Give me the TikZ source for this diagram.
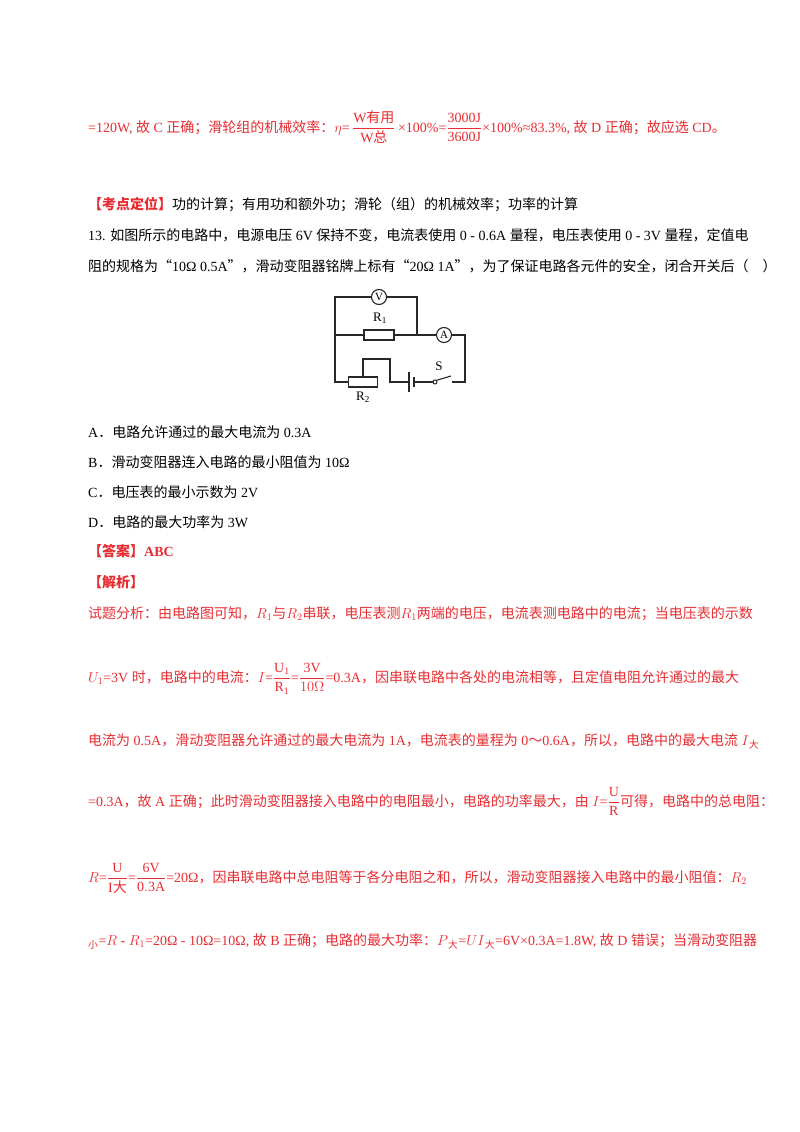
\documentclass[tikz,border=0pt]{standalone}
\usepackage{fontspec}
\usepackage{amsmath}
\setmainfont{Liberation Serif}
\newfontfamily\cjk{Noto Sans CJK SC}
\newfontfamily\latn{Liberation Serif}
\XeTeXinterchartokenstate=1
\newXeTeXintercharclass\CJKcls
\count255="4E00
\loop \XeTeXcharclass\count255=\CJKcls \ifnum\count255<"9FFF \advance\count255 1 \repeat
\count255="3000
\loop \XeTeXcharclass\count255=\CJKcls \ifnum\count255<"303F \advance\count255 1 \repeat
\count255="FF00
\loop \XeTeXcharclass\count255=\CJKcls \ifnum\count255<"FFEF \advance\count255 1 \repeat
\XeTeXcharclass"201C=\CJKcls
\XeTeXcharclass"201D=\CJKcls
\XeTeXinterchartoks 0 \CJKcls = {\cjk}
\XeTeXinterchartoks 4095 \CJKcls = {\cjk}
\XeTeXinterchartoks \CJKcls 0 = {\latn}
\XeTeXinterchartoks \CJKcls 4095 = {\latn}
\definecolor{ans}{RGB}{232,45,50}
\definecolor{ink}{RGB}{40,40,40}
\tikzset{ln/.style={anchor=base west,inner sep=0pt,font=\fontsize{14}{16}\selectfont},
  wire/.style={draw=ink,line width=1.1pt},
  meter/.style={circle,draw=ink,line width=1.1pt,fill=white,minimum size=15pt,inner sep=0pt,font=\fontsize{11}{11}\selectfont}}
\begin{document}
\begin{tikzpicture}[x=1pt,y=-1pt]
\useasboundingbox[fill=white] (0,0) rectangle (800,1132);
\node[ln,text=ans] (l1) at (88,132) {=120W, 故 C 正确；滑轮组的机械效率：$\eta$\latn=\,$\dfrac{\mbox{W有用}}{\mbox{W总}}$\latn\,×100\%=$\dfrac{\mbox{3000J}}{\mbox{3600J}}$\latn×100\%≈83.3\%, 故 D 正确；故应选 CD。};
\node[ln] (l2) at (88,209) {\textcolor{ans}{\bfseries 【考点定位】}功的计算；有用功和额外功；滑轮（组）的机械效率；功率的计算};
\node[ln] (l3) at (88,240) {13. 如图所示的电路中，电源电压 6V 保持不变，电流表使用 0 - 0.6A 量程，电压表使用 0 - 3V 量程，定值电};
\node[ln] (l4) at (88,271) {阻的规格为“10Ω 0.5A”，滑动变阻器铭牌上标有“20Ω 1A”，为了保证电路各元件的安全，闭合开关后（\quad ）};
\node[ln] (oa) at (88,437) {A．电路允许通过的最大电流为 0.3A};
\node[ln] (ob) at (88,467) {B．滑动变阻器连入电路的最小阻值为 10Ω};
\node[ln] (oc) at (88,497) {C．电压表的最小示数为 2V};
\node[ln] (od) at (88,527) {D．电路的最大功率为 3W};
\node[ln,text=ans] (an) at (88,556) {\bfseries 【答案】ABC};
\node[ln,text=ans] (jx) at (88,587) {\bfseries 【解析】};
\node[ln,text=ans] (p1) at (88,618) {试题分析：由电路图可知，$R_1$与$R_2$串联，电压表测$R_1$两端的电压，电流表测电路中的电流；当电压表的示数};
\node[ln,text=ans] (p2) at (88,682) {$U_1$\latn=3V 时，电路中的电流：$I$\latn=$\dfrac{\mathrm{U_1}}{\mathrm{R_1}}$\latn=$\dfrac{\mathrm{3V}}{10\Omega}$\latn=0.3A，因串联电路中各处的电流相等，且定值电阻允许通过的最大};
\node[ln,text=ans] (p3) at (88,745) {电流为 0.5A，滑动变阻器允许通过的最大电流为 1A，电流表的量程为 0～0.6A，所以，电路中的最大电流 $I$\textsubscript{大}};
\node[ln,text=ans] (p4) at (88,806) {=0.3A，故 A 正确；此时滑动变阻器接入电路中的电阻最小，电路的功率最大，由 $I$\latn=$\dfrac{\mathrm{U}}{\mathrm{R}}$可得，电路中的总电阻：};
\node[ln,text=ans] (p5) at (88,882) {$R$\latn=$\dfrac{\mathrm{U}}{\mbox{I大}}$\latn=$\dfrac{\mathrm{6V}}{\mathrm{0.3A}}$\latn=20Ω，因串联电路中总电阻等于各分电阻之和，所以，滑动变阻器接入电路中的最小阻值：$R_2$};
\node[ln,text=ans] (p6) at (88,945) {\textsubscript{小}\latn=$R$\latn\ - $R_1$\latn=20Ω - 10Ω=10Ω, 故 B 正确；电路的最大功率：$P$\textsubscript{大}\latn=$UI$\textsubscript{大}\latn=6V×0.3A=1.8W, 故 D 错误；当滑动变阻器};
% circuit
\coordinate (tl) at (335,297); \coordinate (tr) at (417,297);
\coordinate (ml) at (335,335); \coordinate (mr) at (417,335);
\coordinate (rr) at (465,335); \coordinate (br) at (465,382);
\coordinate (bl) at (335,382);
\draw[wire] (ml) -- (tl) -- (tr) -- (mr);
\draw[wire] (ml) -- (rr) -- (br) -- (452,382);
\draw[wire] (ml) -- (bl) -- (349,382);
\node[meter] (V) at (379,297) {V};
\node[meter] (A) at (444,335) {A};
\node[draw=ink,line width=1.1pt,fill=white,minimum width=30pt,minimum height=10pt,inner sep=0pt] (R1) at (379,335) {};
\node[font=\fontsize{13}{13}\selectfont] (R1l) at (380,318) {R\textsubscript{1}};
\node[draw=ink,line width=1.1pt,fill=white,minimum width=29pt,minimum height=10pt,inner sep=0pt] (R2) at (363,382) {};
\node[font=\fontsize{13}{13}\selectfont] (R2l) at (363,397) {R\textsubscript{2}};
\draw[wire] (R2.north) -- (363,359) -- (390,359) -- (390,382) -- (409,382);
\draw[wire] (409,372) -- (409,392);
\draw[wire] (414,377) -- (414,387);
\draw[wire] (414,382) -- (433,382);
\node[circle,draw=ink,line width=1pt,fill=white,minimum size=4pt,inner sep=0pt] (sw) at (435,382) {};
\draw[wire] (sw.north east) -- (451,376);
\node[font=\fontsize{13}{13}\selectfont] (Sl) at (439,366) {S};
\end{tikzpicture}
\end{document}
